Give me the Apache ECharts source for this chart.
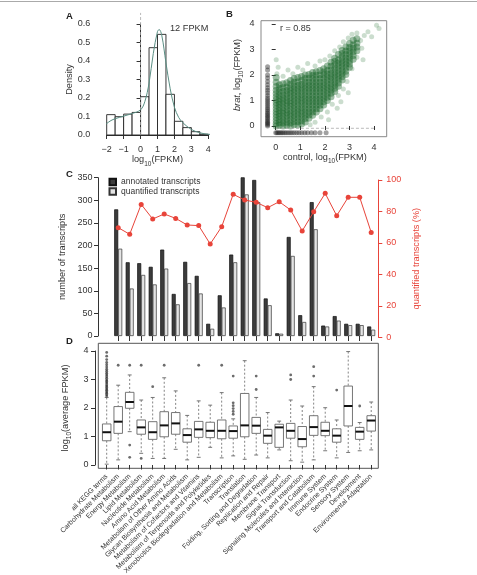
<!DOCTYPE html>
<html>
<head>
<meta charset="utf-8">
<script src="https://cdn.jsdelivr.net/npm/echarts@6/dist/echarts.min.js"></script>
<style>
html,body{margin:0;padding:0;background:#fff}
#chart{width:477px;height:575px}
</style>
</head>
<body>
<div id="chart"></div>
<script>
// A: histogram of log10(FPKM) + density
var histLo = [-2, -1.5, -1, -0.5, 0, 0.5, 1, 1.5, 2, 2.5, 3, 3.5];
var histHi = [-1.5, -1, -0.5, 0, 0.5, 1, 1.5, 2, 2.5, 3, 3.5, 4];
var histDensity = [0.11, 0.099, 0.113, 0.122, 0.207, 0.472, 0.544, 0.22, 0.074, 0.04, 0.018, 0.004];
var densX = [-2.6, -2.45, -2.3, -2.15, -2, -1.75, -1.5, -1, -0.5, 0, 0.25, 0.5, 0.75, 1, 1.1, 1.25, 1.5, 1.75, 2, 2.25, 2.5, 3, 3.5, 4, 4.85];
var densY = [0, 0.018, 0.036, 0.05, 0.062, 0.078, 0.088, 0.102, 0.116, 0.136, 0.18, 0.28, 0.44, 0.56, 0.57, 0.54, 0.39, 0.25, 0.15, 0.095, 0.066, 0.03, 0.012, 0.004, 0];

// B: brat vs control, dense cloud read column by column
var cloudX = [0.02, 0.15, 0.3, 0.45, 0.6, 0.75, 0.9, 1.05, 1.2, 1.35, 1.5, 1.65, 1.8, 1.95, 2.1, 2.25, 2.4, 2.55, 2.7, 2.85, 3.0, 3.15, 3.3];
var cloudY = [
    [0.0, 0.1, 0.22, 0.33, 0.45, 0.56, 0.68, 0.8, 0.91, 1.03, 1.15, 1.27, 1.4, 1.55, 1.72, 1.9],
    [0.02, 0.13, 0.25, 0.37, 0.48, 0.6, 0.72, 0.84, 0.95, 1.07, 1.2, 1.33, 1.47, 1.62],
    [0.0, 0.12, 0.24, 0.36, 0.49, 0.61, 0.73, 0.86, 0.98, 1.1, 1.23, 1.36, 1.5, 1.66],
    [0.03, 0.15, 0.27, 0.4, 0.52, 0.64, 0.77, 0.89, 1.01, 1.14, 1.26, 1.39, 1.53, 1.7],
    [0.0, 0.12, 0.25, 0.38, 0.5, 0.63, 0.76, 0.88, 1.0, 1.13, 1.26, 1.38, 1.5, 1.64, 1.78],
    [0.05, 0.18, 0.3, 0.43, 0.56, 0.69, 0.81, 0.94, 1.07, 1.2, 1.32, 1.45, 1.58, 1.72, 1.86],
    [0.04, 0.17, 0.3, 0.43, 0.56, 0.68, 0.81, 0.94, 1.07, 1.2, 1.33, 1.46, 1.59, 1.73, 1.9],
    [0.08, 0.21, 0.34, 0.47, 0.6, 0.73, 0.86, 0.99, 1.12, 1.25, 1.38, 1.51, 1.64, 1.78, 1.94],
    [0.16, 0.29, 0.42, 0.55, 0.68, 0.81, 0.94, 1.07, 1.2, 1.33, 1.46, 1.59, 1.72, 1.86, 2.0],
    [0.3, 0.43, 0.56, 0.69, 0.82, 0.95, 1.08, 1.21, 1.34, 1.47, 1.6, 1.73, 1.87, 2.02],
    [0.42, 0.55, 0.68, 0.81, 0.94, 1.07, 1.2, 1.33, 1.46, 1.59, 1.72, 1.85, 1.98, 2.1],
    [0.55, 0.68, 0.81, 0.94, 1.07, 1.2, 1.33, 1.46, 1.59, 1.72, 1.85, 1.99, 2.13],
    [0.68, 0.81, 0.94, 1.07, 1.2, 1.33, 1.46, 1.59, 1.72, 1.86, 2.0, 2.18],
    [0.82, 0.95, 1.08, 1.21, 1.34, 1.47, 1.6, 1.73, 1.86, 2.0, 2.12, 2.25],
    [1.0, 1.13, 1.26, 1.39, 1.52, 1.65, 1.78, 1.91, 2.04, 2.18, 2.35],
    [1.15, 1.28, 1.41, 1.54, 1.67, 1.8, 1.93, 2.06, 2.2, 2.34, 2.5],
    [1.35, 1.48, 1.61, 1.74, 1.87, 2.0, 2.13, 2.26, 2.4, 2.54, 2.66],
    [1.56, 1.69, 1.82, 1.95, 2.08, 2.21, 2.34, 2.47, 2.6, 2.8],
    [1.8, 1.93, 2.06, 2.19, 2.32, 2.45, 2.58, 2.71, 2.84, 2.96],
    [2.02, 2.15, 2.28, 2.41, 2.54, 2.67, 2.8, 2.94, 3.1],
    [2.3, 2.43, 2.56, 2.69, 2.82, 2.95, 3.08, 3.24],
    [2.62, 2.76, 2.9, 3.04, 3.18, 3.36],
    [2.95, 3.1, 3.25, 3.42]
];
var sparseGreen = [
    [0.05, 2.05], [0.1, 2.3], [0.02, 2.6], [0.3, 1.95], [0.5, 2.2], [0.7, 2.05], [0.9, 2.3], [1.1, 2.2],
    [1.3, 2.45], [1.6, 2.35], [1.8, 2.55], [2.0, 2.6], [2.2, 2.75], [2.4, 2.95], [2.6, 3.1], [2.75, 3.3],
    [2.95, 3.45], [3.1, 3.6], [3.3, 3.65], [3.45, 3.35], [3.6, 3.55], [3.75, 3.7], [3.9, 3.5], [4.1, 3.95],
    [4.2, 3.82], [3.5, 3.05], [3.3, 2.7], [3.1, 2.25], [2.9, 1.75], [2.75, 1.45], [2.55, 1.2], [2.3, 0.85],
    [2.1, 0.55], [1.85, 0.35], [1.6, 0.15], [1.4, 0.05], [2.5, 0.7], [2.65, 0.95], [2.15, 0.25], [3.55, 2.6],
    [2.95, 1.3]
];
var zeroControlY = [0, 0.05, 0.1, 0.15, 0.2, 0.26, 0.32, 0.38, 0.44, 0.5, 0.57, 0.64, 0.71, 0.78, 0.86, 0.94,
    1.02, 1.1, 1.2, 1.3, 1.4, 1.5, 1.62, 1.75, 1.88, 2.0, 2.2, 2.32];
var zeroBratX = [0, 0.05, 0.1, 0.16, 0.22, 0.28, 0.35, 0.42, 0.5, 0.58, 0.66, 0.75, 0.85, 0.95, 1.06, 1.18,
    1.3, 1.45, 1.6, 1.8, 2.05];

// C + D: KEGG categories
var categories = ['all KEGG terms', 'Carbohydrate Metabolism', 'Energy Metabolism', 'Lipid Metabolism',
    'Nucleotide Metabolism', 'Amino Acid Metabolism', 'Metabolism of Other Amino Acids',
    'Glycan Biosynthesis and Metabolism', 'Metabolism of Cofactors and Vitamins',
    'Metabolism of Terpenoids and Polyketides', 'Xenobiotics Biodegradation and Metabolism',
    'Transcription', 'Translation', 'Folding, Sorting and Degradation', 'Replication and Repair',
    'Membrane Transport', 'Signal Transduction', 'Signaling Molecules and Interaction',
    'Transport and Catabolism', 'Immune System', 'Endocrine System', 'Sensory System',
    'Development', 'Environmental Adaptation'];
var annotated = ['-', 280, 163, 161, 153, 191, 93, 164, 133, 27, 90, 180, 359, 345, 83, 6, 219, 46, 296, 23, 44, 27, 27, 21];
var quantified = ['-', 193, 105, 135, 114, 149, 70, 117, 94, 16, 63, 163, 313, 296, 68, 5, 177, 31, 236, 21, 34, 24, 24, 14];
var quantPct = ['-', 69.7, 65.5, 84.5, 75.2, 78.4, 75.6, 71.4, 71, 59.3, 70.3, 90.9, 87.3, 85.8, 82.4, 86.2, 80.9, 67.6, 79.8, 91.5, 77.3, 89, 89, 66.7];

var boxLow  = [0.03, 0.18, 1.17, 0.41, 0.23, 0.23, 0.55, 0.18, 0.27, 0.62, 0.25, 0.32, 0.2, 0.35, 0.25, 0.53, 0.15, 0.1, 0.18, 0.5, 0.25, 0.44, 0.5, 0.53];
var boxQ1   = [0.85, 1.11, 1.99, 1.08, 0.9, 0.99, 1.08, 0.8, 0.97, 0.96, 0.92, 0.94, 0.99, 1.11, 0.76, 0.62, 0.94, 0.64, 1.04, 1.03, 0.8, 1.37, 0.9, 1.19];
var boxMed  = [1.15, 1.52, 2.21, 1.32, 1.15, 1.39, 1.46, 1.05, 1.25, 1.2, 1.2, 1.19, 1.39, 1.38, 1.03, 1.32, 1.2, 0.91, 1.33, 1.2, 1.03, 2.07, 1.17, 1.56];
var boxQ3   = [1.44, 2.05, 2.55, 1.58, 1.52, 1.87, 1.84, 1.27, 1.53, 1.5, 1.58, 1.37, 2.51, 1.67, 1.25, 1.43, 1.46, 1.35, 1.73, 1.5, 1.27, 2.77, 1.32, 1.73];
var boxHigh = [2.37, 2.8, 3.16, 2.28, 2.37, 3.06, 2.6, 1.74, 2.25, 2.1, 2.54, 1.62, 3.66, 2.37, 1.84, 1.54, 2.28, 2.07, 2.75, 2.01, 1.58, 3.98, 1.49, 2.21];
var outlierCat = [0, 0, 0, 0, 0, 0, 0, 0, 0, 0, 0, 0, 0, 0, 0, 0, 0, 0, 0, 0, 0, 0, 0, 0, 0,
    1, 2, 2, 2, 3, 3, 4, 5, 8, 10, 11, 11, 11, 11, 11, 11, 13, 13, 16, 16, 18, 18, 20, 22];
var outlierVal = [2.42, 2.47, 2.52, 2.57, 2.62, 2.67, 2.72, 2.77, 2.82, 2.88, 2.93, 2.98, 3.04, 3.1, 3.16, 3.22, 3.29, 3.36, 3.44, 3.52, 3.6, 3.7, 3.82, 3.95, 4.1,
    3.5, 3.5, 0.7, 0.27, 3.5, 0.23, 2.75, 3.5, 3.5, 3.5, 1.78, 1.88, 1.98, 2.08, 2.18, 3.12, 3.12, 2.65, 3.16, 3.0, 3.45, 3.12, 2.63, 2.07];

var FONT = 'Liberation Sans';
var TXT = '#333';
var RED = '#e8443a';

var rich = {
    n: {fontSize: 9.2, fontFamily: FONT, color: TXT, lineHeight: 15},
    i: {fontSize: 9.2, fontFamily: FONT, color: TXT, lineHeight: 15, fontStyle: 'italic'},
    s: {fontSize: 6.5, fontFamily: FONT, color: TXT, lineHeight: 15, verticalAlign: 'bottom'}
};

function valueAxis(grid, min, max, step, offset, extra) {
    var ax = {
        type: 'value', gridIndex: grid, min: min, max: max, interval: step, offset: offset,
        axisLine: {show: true, lineStyle: {color: TXT, width: 1}},
        axisTick: {show: true, length: 4, lineStyle: {color: TXT, width: 1}},
        axisLabel: {fontSize: 9, fontFamily: FONT, color: TXT, margin: 6.5},
        splitLine: {show: false},
        nameLocation: 'middle',
        nameTextStyle: {fontSize: 9.2, fontFamily: FONT, color: TXT, rich: rich}
    };
    for (var k in extra) ax[k] = extra[k];
    return ax;
}

var cloud = [];
cloudX.forEach(function (x, i) {
    cloudY[i].forEach(function (y) { cloud.push([x, y]); });
});
var zeroCol = zeroControlY.map(function (y) { return [-0.33, y]; });
var zeroRow = zeroBratX.map(function (x) { return [x, -0.26]; });
var histData = histLo.map(function (lo, i) { return [lo, histHi[i], histDensity[i]]; });
var densData = densX.map(function (x, i) { return [x, densY[i]]; });
var boxData = categories.map(function (c, i) {
    return [i, boxLow[i], boxQ1[i], boxMed[i], boxQ3[i], boxHigh[i]];
});
var outData = outlierCat.map(function (c, i) { return [c, outlierVal[i]]; });

var myChart = echarts.init(document.getElementById('chart'), null, {renderer: 'canvas'});

var option = {
    animation: false,
    backgroundColor: '#fff',
    textStyle: {fontFamily: FONT},
    grid: [
        {left: 106.7, top: 24, width: 101.6, height: 111, containLabel: false, outerBoundsMode: 'none'},
        {left: 275.7, top: 24, width: 98.4, height: 102, containLabel: false, outerBoundsMode: 'none'},
        {left: 100.95, top: 177.7, width: 276, height: 158.3, containLabel: false, outerBoundsMode: 'none'},
        {left: 100.95, top: 180, width: 276, height: 157.3, containLabel: false, outerBoundsMode: 'none'},
        {left: 100.95, top: 351, width: 276, height: 114, containLabel: false, outerBoundsMode: 'none'}
    ],
    legend: {
        data: ['annotated transcripts', 'quantified transcripts'],
        orient: 'vertical', left: 108.5, top: 177.5,
        itemWidth: 6.5, itemHeight: 6.5, itemGap: 0.5, icon: 'rect', padding: 0,
        textStyle: {fontSize: 8.5, fontFamily: FONT, color: TXT}
    },
    xAxis: [
        valueAxis(0, -2, 4, 1, 4.3, {
            axisLabel: {fontSize: 9, fontFamily: FONT, color: TXT, margin: 6,
                formatter: function (v) { return v < 0 ? '\u2212' + (-v) : '' + v; }},
            name: '{n|log}{s|10}{n|(FPKM)}', nameGap: 13
        }),
        valueAxis(1, 0, 4, 1, 10.7, {
            axisLine: {show: false},
            axisLabel: {fontSize: 9, fontFamily: FONT, color: TXT, margin: 6},
            name: '{n|control, log}{s|10}{n|(FPKM)}', nameGap: 13
        }),
        {
            type: 'category', gridIndex: 2, data: categories, offset: 2,
            axisLine: {show: false},
            axisTick: {show: true, alignWithLabel: true, length: 5, lineStyle: {color: TXT},
                interval: function (idx) { return idx > 0; }},
            axisLabel: {show: false}
        },
        {type: 'category', gridIndex: 3, data: categories, show: false},
        {
            type: 'category', gridIndex: 4, data: categories, offset: 3.3,
            axisLine: {show: false},
            axisTick: {show: true, alignWithLabel: true, length: 4.5, interval: 0, lineStyle: {color: TXT}},
            axisLabel: {interval: 0, rotate: 45, fontSize: 7, fontFamily: FONT, color: TXT, margin: 7}
        }
    ],
    yAxis: [
        valueAxis(0, 0, 0.6, 0.1, 10, {
            axisLabel: {fontSize: 9, fontFamily: FONT, color: TXT, margin: 6.5,
                formatter: function (v) { return v.toFixed(1); }},
            name: 'Density', nameGap: 20, nameRotate: 90
        }),
        valueAxis(1, 0, 4, 1, 14.7, {
            axisLine: {show: false},
            name: '{i|brat}{n|, log}{s|10}{n|(FPKM)}', nameGap: 16, nameRotate: 90
        }),
        valueAxis(2, 0, 350, 50, 2.95, {
            position: 'left',
            axisLabel: {fontSize: 9, fontFamily: FONT, color: TXT, margin: 5.5},
            name: 'number of transcripts', nameGap: 23, nameRotate: 90
        }),
        valueAxis(3, 0, 100, 20, 1.35, {
            position: 'right',
            axisLine: {show: true, lineStyle: {color: RED, width: 1}},
            axisTick: {show: true, length: 4, lineStyle: {color: RED, width: 1}},
            axisLabel: {fontSize: 9, fontFamily: FONT, color: RED, margin: 8},
            name: 'quantified transcripts (%)', nameGap: 24, nameRotate: 90,
            nameTextStyle: {fontSize: 9.2, fontFamily: FONT, color: RED}
        }),
        valueAxis(4, 0, 4, 1, 5.95, {
            name: '{n|log}{s|10}{n|(average FPKM)}', nameGap: 13, nameRotate: 90
        })
    ],
    series: [
        {
            type: 'custom', xAxisIndex: 0, yAxisIndex: 0, data: histData,
            encode: {x: [0, 1], y: 2},
            renderItem: function (params, api) {
                var a = api.coord([api.value(0), api.value(2)]);
                var b = api.coord([api.value(1), 0]);
                return {type: 'rect', shape: {x: a[0], y: a[1], width: b[0] - a[0], height: b[1] - a[1]},
                    style: {fill: '#fff', stroke: '#222', lineWidth: 0.9}};
            }
        },
        {
            type: 'line', xAxisIndex: 0, yAxisIndex: 0, data: [[0, 0], [0, 0.66]], clip: false,
            showSymbol: false, silent: true,
            lineStyle: {color: '#aaa', width: 0.8, type: [3, 2]}
        },
        {
            type: 'line', xAxisIndex: 0, yAxisIndex: 0, data: densData, smooth: 0.35, clip: false,
            showSymbol: false, lineStyle: {color: '#5a8f84', width: 1}
        },
        {
            type: 'line', xAxisIndex: 1, yAxisIndex: 1, data: [[-0.1, -0.42], [-0.1, 4.13]], clip: false,
            showSymbol: false, lineStyle: {color: '#aaa', width: 0.8, type: [3, 2]}
        },
        {
            type: 'line', xAxisIndex: 1, yAxisIndex: 1, data: [[-0.6, -0.09], [4.51, -0.09]], clip: false,
            showSymbol: false, lineStyle: {color: '#aaa', width: 0.8, type: [3, 2]}
        },
        {
            type: 'scatter', xAxisIndex: 1, yAxisIndex: 1, data: sparseGreen, clip: false,
            symbolSize: 5, itemStyle: {color: 'rgba(40,115,55,0.3)'}
        },
        {
            type: 'scatter', xAxisIndex: 1, yAxisIndex: 1, data: cloud, clip: false,
            symbolSize: 7, itemStyle: {color: 'rgba(30,105,45,0.55)'}
        },
        {
            type: 'scatter', xAxisIndex: 1, yAxisIndex: 1, data: zeroCol.concat(zeroRow), clip: false,
            symbolSize: 5, itemStyle: {color: 'rgba(20,20,20,0.5)'}
        },
        {
            name: 'annotated transcripts', type: 'bar', xAxisIndex: 2, yAxisIndex: 2, data: annotated,
            barWidth: 4, barGap: '0%',
            itemStyle: {color: '#3c3c3c', borderColor: '#111', borderWidth: 0.7}
        },
        {
            name: 'quantified transcripts', type: 'bar', xAxisIndex: 2, yAxisIndex: 2, data: quantified,
            barWidth: 4, barGap: '0%',
            itemStyle: {color: '#e4e4e4', borderColor: '#333', borderWidth: 0.7}
        },
        {
            type: 'line', xAxisIndex: 3, yAxisIndex: 3, data: quantPct,
            symbol: 'circle', symbolSize: 5,
            lineStyle: {color: RED, width: 1}, itemStyle: {color: RED}
        },
        {
            type: 'custom', xAxisIndex: 4, yAxisIndex: 4, data: boxData,
            encode: {x: 0, y: [1, 2, 3, 4, 5]},
            renderItem: function (params, api) {
                var c = api.value(0);
                var pLo = api.coord([c, api.value(1)]);
                var pQ1 = api.coord([c, api.value(2)]);
                var pMd = api.coord([c, api.value(3)]);
                var pQ3 = api.coord([c, api.value(4)]);
                var pHi = api.coord([c, api.value(5)]);
                var bw = api.size([1, 0])[0];
                var half = bw * 0.37, cap = bw * 0.17, x = pMd[0];
                var dash = {stroke: '#777', lineWidth: 0.9, lineDash: [2, 2]};
                var solid = {stroke: '#666', lineWidth: 0.9};
                return {type: 'group', children: [
                    {type: 'line', shape: {x1: x, y1: pHi[1], x2: x, y2: pQ3[1]}, style: dash},
                    {type: 'line', shape: {x1: x, y1: pQ1[1], x2: x, y2: pLo[1]}, style: dash},
                    {type: 'line', shape: {x1: x - cap, y1: pHi[1], x2: x + cap, y2: pHi[1]}, style: solid},
                    {type: 'line', shape: {x1: x - cap, y1: pLo[1], x2: x + cap, y2: pLo[1]}, style: solid},
                    {type: 'rect', shape: {x: x - half, y: pQ3[1], width: half * 2, height: pQ1[1] - pQ3[1]},
                        style: {fill: '#fff', stroke: '#666', lineWidth: 0.9}},
                    {type: 'line', shape: {x1: x - half, y1: pMd[1], x2: x + half, y2: pMd[1]},
                        style: {stroke: '#111', lineWidth: 2}}
                ]};
            }
        },
        {
            type: 'scatter', xAxisIndex: 4, yAxisIndex: 4, data: outData,
            symbolSize: 2.8, itemStyle: {color: 'rgba(40,40,40,0.85)'}
        }
    ],
    graphic: [
        {type: 'line', shape: {x1: 0, y1: 1.5, x2: 477, y2: 1.5}, style: {stroke: '#aaa', lineWidth: 1}},
        {type: 'rect', shape: {x: 261, y: 20.7, width: 125.7, height: 116}, style: {fill: 'none', stroke: '#888', lineWidth: 1}},
        {type: 'rect', shape: {x: 98.3, y: 343.3, width: 280, height: 125}, style: {fill: 'none', stroke: '#555', lineWidth: 1}},
        {type: 'text', left: 66, top: 11.5, style: {text: 'A', fontSize: 9.5, fontWeight: 'bold', fontFamily: FONT, fill: '#222'}},
        {type: 'text', left: 226, top: 9.5, style: {text: 'B', fontSize: 9.5, fontWeight: 'bold', fontFamily: FONT, fill: '#222'}},
        {type: 'text', left: 66, top: 169.5, style: {text: 'C', fontSize: 9.5, fontWeight: 'bold', fontFamily: FONT, fill: '#222'}},
        {type: 'text', left: 66, top: 336.5, style: {text: 'D', fontSize: 9.5, fontWeight: 'bold', fontFamily: FONT, fill: '#222'}},
        {type: 'text', left: 170, top: 24, style: {text: '12 FPKM', fontSize: 9.2, fontFamily: FONT, fill: TXT}},
        {type: 'text', left: 280, top: 24.5, style: {text: 'r = 0.85', fontSize: 9, fontFamily: FONT, fill: TXT}}
    ]
};
myChart.setOption(option);
</script>
</body>
</html>
